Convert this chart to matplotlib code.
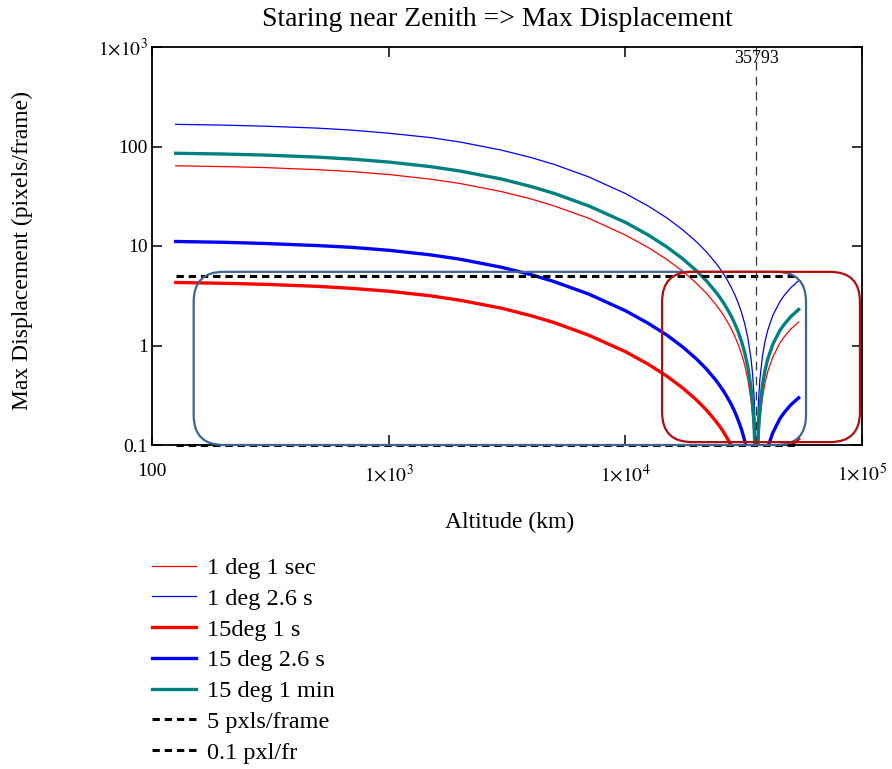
import matplotlib
matplotlib.use("Agg")
import matplotlib.pyplot as plt
from matplotlib.patches import FancyBboxPatch
from matplotlib.transforms import blended_transform_factory

plt.rcParams["font.family"] = ["Liberation Serif", "DejaVu Serif"]
plt.rcParams["mathtext.fontset"] = "stix"

# altitude (km) and max displacement (pixels/frame)
altitude_km = [126, 200, 300, 500, 700, 1000, 1500, 2000, 3000, 4000, 5000,
               7000, 10000, 12500, 15000, 17500, 20000, 22000, 24000, 25000,
               26000, 27000, 28000, 29000, 30000, 31000, 32000, 33000, 34000,
               34500, 35000, 35500, 36100, 36500, 37000, 38000, 39000, 40000,
               42000, 45000, 47000, 50000, 54000]
deg1_1sec = [64, 62.8, 61.4, 58.5, 55.9, 52.3, 47.0, 42.5, 35.2, 29.7, 25.3,
             19.0, 12.9, 9.65, 7.31, 5.56, 4.21, 3.35, 2.62, 2.30,
             2.01, 1.73, 1.48, 1.24, 1.02, 0.818, 0.626, 0.445, 0.277,
             0.196, 0.118, 0.0424, 0.0456, 0.103, 0.172, 0.305, 0.431, 0.550,
             0.769, 1.06, 1.23, 1.46, 1.72]
deg1_26sec = [167, 164, 160, 153, 146, 136, 123, 111, 91.9, 77.4, 66.1,
              49.5, 33.7, 25.2, 19.1, 14.5, 11.0, 8.74, 6.84, 6.01,
              5.23, 4.52, 3.86, 3.24, 2.67, 2.13, 1.63, 1.16, 0.722,
              0.512, 0.308, 0.111, 0.119, 0.268, 0.449, 0.796, 1.12, 1.43,
              2.01, 2.76, 3.21, 3.80, 4.49]
deg15_1sec = [4.30, 4.22, 4.12, 3.93, 3.75, 3.51, 3.16, 2.85, 2.37, 1.99, 1.70,
              1.27, 0.868, 0.648, 0.491, 0.373, 0.283, 0.225, 0.176, 0.155,
              0.135, 0.116, 0.0994, 0.0835, 0.0687, 0.0550, 0.0420, 0.0299, 0.0186,
              0.0132, 0.00794, 0.00285, 0.00307, 0.00689, 0.0116, 0.0205, 0.0289,
              0.0369, 0.0517, 0.0712, 0.0826, 0.0980, 0.115]
deg15_26sec = [11.1, 10.9, 10.6, 10.1, 9.69, 9.06, 8.15, 7.37, 6.11, 5.15, 4.39,
               3.29, 2.24, 1.67, 1.27, 0.964, 0.731, 0.581, 0.455, 0.399,
               0.348, 0.300, 0.257, 0.216, 0.177, 0.142, 0.109, 0.0773, 0.0480,
               0.0340, 0.0205, 0.00735, 0.00791, 0.0178, 0.0299, 0.0529, 0.0747,
               0.0953, 0.133, 0.184, 0.213, 0.253, 0.298]
deg15_1min = [85.5, 84.0, 82.0, 78.2, 74.7, 69.8, 62.8, 56.7, 47.1, 39.6, 33.8,
              25.3, 17.3, 12.9, 9.76, 7.42, 5.63, 4.47, 3.50, 3.08,
              2.68, 2.31, 1.98, 1.66, 1.37, 1.09, 0.836, 0.595, 0.370,
              0.262, 0.158, 0.0566, 0.0610, 0.137, 0.230, 0.408, 0.575, 0.734,
              1.03, 1.42, 1.64, 1.95, 2.30]

limit_alt = [126, 54000]
limit_5 = [5, 5]
limit_01 = [0.1, 0.1]
geo_altitude = 35793

x_ticks = [100, 1e3, 1e4, 1e5]
x_tick_labels = ["100", r"$1{\times}10^{3}$", r"$1{\times}10^{4}$", r"$1{\times}10^{5}$"]
y_ticks = [0.1, 1, 10, 100, 1000]
y_tick_labels = ["0.1", "1", "10", "100", r"$1{\times}10^{3}$"]

# highlight boxes (altitude, displacement corners)
blue_box = [(150, 0.1), (58000, 5.5)]
red_box = [(14300, 0.107), (98000, 5.5)]

fig = plt.figure(figsize=(8.92, 7.69), dpi=100)
ax = fig.add_axes([152 / 892, 1 - 445 / 769, 710 / 892, 398 / 769])
ax.set_xscale("log")
ax.set_yscale("log")
ax.set_xlim(100, 1e5)
ax.set_ylim(0.1, 1000)

ax.plot(altitude_km, deg1_1sec, color="#ff0000", lw=0.9, label="1 deg 1 sec")
ax.plot(altitude_km, deg1_26sec, color="#0000ff", lw=0.9, label="1 deg 2.6 s")
ax.plot(altitude_km, deg15_1sec, color="#ff0000", lw=2.4, label="15deg 1 s")
ax.plot(altitude_km, deg15_26sec, color="#0000ff", lw=2.4, label="15 deg 2.6 s")
ax.plot(altitude_km, deg15_1min, color="#008080", lw=2.4, label="15 deg 1 min")
ax.plot(limit_alt, limit_5, color="black", lw=2.2, dashes=(2.4, 1.6),
        label="5 pxls/frame")
ax.plot(limit_alt, limit_01, color="black", lw=2.2, dashes=(2.4, 1.6),
        label="0.1 pxl/fr", clip_on=False)

ax.axvline(geo_altitude, color="#333333", lw=0.9, dashes=(7, 5))
trans = blended_transform_factory(ax.transData, ax.transAxes)
ax.text(geo_altitude, 0.97, str(geo_altitude), transform=trans, ha="center",
        va="center", fontsize=13)

for spine in ax.spines.values():
    spine.set_linewidth(1.3)
ax.tick_params(which="major", direction="in", length=7, width=1.1,
               top=True, right=True, labelsize=14)
ax.tick_params(axis="x", pad=13)
ax.tick_params(axis="y", pad=3)
ax.minorticks_off()
ax.set_xticks(x_ticks)
ax.set_xticklabels(x_tick_labels)
ax.set_yticks(y_ticks)
ax.set_yticklabels(y_tick_labels)

fig.text(497 / 892, 1 - 19 / 769, "Staring near Zenith => Max Displacement",
         ha="center", va="center", fontsize=20)
fig.text(510 / 892, 1 - 522 / 769, "Altitude (km)", ha="center", va="center",
         fontsize=17)
fig.text(22 / 892, 1 - 250 / 769, "Max Displacement (pixels/frame)",
         ha="center", va="center", rotation=90, fontsize=17)

# rounded highlight boxes, kept circular in pixels
to_axes = ax.transData + ax.transAxes.inverted()
aspect = 710 / 398
for box, col in [(blue_box, "#3f6690"), (red_box, "#b20e0e")]:
    (ax0, ay0), (ax1, ay1) = to_axes.transform(box)
    patch = FancyBboxPatch((ax0, ay0), ax1 - ax0, ay1 - ay0,
                           boxstyle="round,pad=0,rounding_size=0.042",
                           mutation_aspect=aspect, transform=ax.transAxes,
                           fill=False, ec=col, lw=1.6, clip_on=False, zorder=5)
    ax.add_patch(patch)

ax.legend(loc="upper left", bbox_to_anchor=(152 / 892, 1 - 557 / 769),
          bbox_transform=fig.transFigure, frameon=False, fontsize=17.5,
          handlelength=1.8, handletextpad=0.45, labelspacing=0.36,
          borderaxespad=0, borderpad=0)

fig.savefig("out.png", dpi=100)
